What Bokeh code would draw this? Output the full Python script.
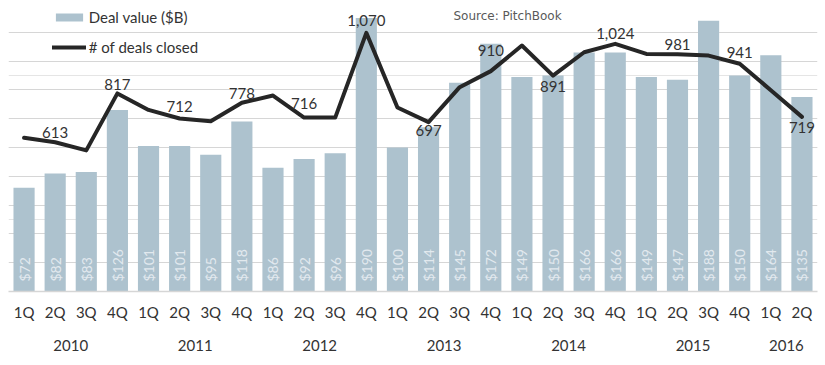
import math
from bokeh.plotting import figure
from bokeh.models import (Range1d, LinearAxis, FixedTicker, Grid, Legend, LegendItem,
                          Label, ColumnDataSource)
from bokeh.core.properties import value
from bokeh.embed import file_html
from bokeh.resources import INLINE

# ---------------- data ----------------
quarters = ["1Q", "2Q", "3Q", "4Q", "1Q", "2Q", "3Q", "4Q", "1Q", "2Q", "3Q", "4Q",
            "1Q", "2Q", "3Q", "4Q", "1Q", "2Q", "3Q", "4Q", "1Q", "2Q", "3Q", "4Q",
            "1Q", "2Q"]
years = ["2010", "2010", "2010", "2010", "2011", "2011", "2011", "2011",
         "2012", "2012", "2012", "2012", "2013", "2013", "2013", "2013",
         "2014", "2014", "2014", "2014", "2015", "2015", "2015", "2015",
         "2016", "2016"]
deal_value = [72, 82, 83, 126, 101, 101, 95, 118, 86, 92, 96, 190, 100, 114,
              145, 172, 149, 150, 166, 166, 149, 147, 188, 150, 164, 135]
deals_closed = [632, 613, 579, 817, 748, 712, 701, 778, 808, 716, 716, 1070, 758,
                697, 843, 910, 1017, 891, 989, 1024, 982, 981, 975, 941, 830, 719]
source_text = "Source: PitchBook"

# ---------------- style ----------------
BAR = "#adc2ce"
GRID = "#d6d6d6"
TXT = "#333333"
FONT = "Lato"
# screen offsets of the deal-count labels (only every second quarter is labelled)
label_dy = {1: -10, 3: -9, 5: -12, 7: -9, 9: -14, 11: -12, 13: 8.5, 15: -21,
            17: 10.5, 19: -10, 21: -10, 23: -11, 25: 11}

n = len(quarters)
xs = list(range(n))
src = ColumnDataSource(dict(
    x=xs, v=deal_value, d=deals_closed,
    vlab=["$%d" % v for v in deal_value],
))
lab_idx = sorted(label_dy)
lab_src = ColumnDataSource(dict(
    x=[xs[i] for i in lab_idx],
    d=[deals_closed[i] for i in lab_idx],
    t=["{:,}".format(deals_closed[i]) for i in lab_idx],
    dy=[label_dy[i] for i in lab_idx],
))

p = figure(width=825, height=365, output_backend="svg", toolbar_location=None,
           x_range=Range1d(-0.5, n - 0.5), y_range=Range1d(0, 200),
           y_axis_location=None, title=None,
           min_border_left=8, min_border_right=8, min_border_top=3, min_border_bottom=74)
p.extra_y_ranges = {"deals": Range1d(-10.4, 1192.5)}
p.outline_line_color = None
p.background_fill_color = "white"
p.border_fill_color = "white"
p.xgrid.visible = False

grid = Grid(dimension=1, ticker=FixedTicker(ticks=[20, 40, 60, 80, 100, 120, 140, 160, 180]),
            grid_line_color=GRID, grid_line_width=1)
p.add_layout(grid)

bars = p.vbar(x="x", top="v", width=0.68, bottom=0, source=src, fill_color=BAR, line_color=None)
p.text(x="x", y=0, text="vlab", source=src, angle=math.pi / 2, text_align="left",
       text_baseline="middle", y_offset=-10, text_color="#e2e9ee",
       text_font=value(FONT), text_font_size="14px")

line = p.line(x="x", y="d", source=src, y_range_name="deals", line_color="#262626",
              line_width=4, line_join="round", line_cap="round")
p.text(x="x", y="d", text="t", source=lab_src, y_range_name="deals", y_offset="dy",
       text_align="center", text_baseline="alphabetic", text_color=TXT,
       text_font=value(FONT), text_font_size="15px")

# quarter axis
ax = p.xaxis[0]
ax.ticker = FixedTicker(ticks=xs)
ax.major_label_overrides = {i: q for i, q in enumerate(quarters)}
ax.axis_line_color = GRID
ax.axis_line_width = 1.5
ax.major_tick_line_color = None
ax.major_tick_out = 0
ax.major_tick_in = 0
ax.minor_tick_line_color = None
ax.minor_tick_out = 0
ax.major_label_text_font = FONT
ax.major_label_text_font_size = "15px"
ax.major_label_text_color = TXT
ax.major_label_standoff = 11

# year axis
year_names = []
for y in years:
    if y not in year_names:
        year_names.append(y)
year_pos = [sum(i for i in xs if years[i] == y) / years.count(y) for y in year_names]
ax2 = LinearAxis(ticker=FixedTicker(ticks=year_pos),
                 major_label_overrides={pos: y for pos, y in zip(year_pos, year_names)},
                 axis_line_color=None, major_tick_line_color=None, minor_tick_line_color=None,
                 major_tick_out=0, major_tick_in=0, minor_tick_out=0,
                 major_label_text_font=FONT, major_label_text_font_size="15px",
                 major_label_text_color=TXT, major_label_standoff=16)
p.add_layout(ax2, "below")

p.add_layout(Label(x=13.8, y=191, text=source_text, text_baseline="middle",
                   text_font="DejaVu Sans", text_font_size="12px", text_color="#595959"))

legend = Legend(items=[LegendItem(label="Deal value ($B)", renderers=[bars]),
                       LegendItem(label="# of deals closed", renderers=[line])],
                location=(43.7, 235.3), orientation="vertical", padding=0, margin=0,
                spacing=12, glyph_width=34, glyph_height=10, label_height=18,
                label_standoff=3, background_fill_alpha=0, border_line_color=None,
                label_text_font=FONT, label_text_font_size="15px", label_text_color=TXT)
p.add_layout(legend)

open("out.html", "w").write(file_html(p, INLINE))
